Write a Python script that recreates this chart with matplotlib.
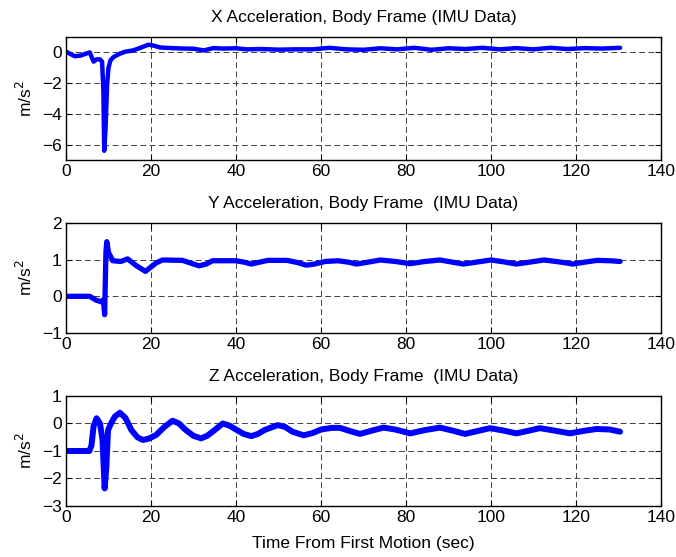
import matplotlib
matplotlib.use('Agg')
import matplotlib.pyplot as plt

plt.rcParams['font.family'] = ['Liberation Sans', 'DejaVu Sans']
plt.rcParams['font.size'] = 12.5

# X acceleration, body frame
tx = [0, 1, 2.1, 3.5, 4.5, 5.6, 6.5, 7.2, 8.0, 8.5, 8.8, 9.0, 9.3, 9.7, 10.0,
      10.5, 11.2, 12.7, 14, 15.8, 17.5, 19.4, 20.5, 22.2, 25, 28, 30, 32.4, 34.7,
      37, 40, 42.5, 46, 50, 54, 58, 62, 66, 70, 74, 78, 82, 86, 90, 94, 98, 102,
      106, 110, 114, 118, 122, 126, 130.4]
ax_vals = [0.05, -0.1, -0.25, -0.2, -0.1, 0.0, -0.6, -0.45, -0.45, -0.6, -2.5,
           -6.4, -5.0, -2.0, -1.0, -0.5, -0.3, -0.08, 0.05, 0.13, 0.3, 0.5, 0.45,
           0.32, 0.28, 0.25, 0.24, 0.13, 0.28, 0.25, 0.27, 0.2, 0.22, 0.18, 0.2,
           0.2, 0.3, 0.2, 0.17, 0.27, 0.2, 0.3, 0.17, 0.27, 0.22, 0.3, 0.2, 0.28,
           0.2, 0.3, 0.22, 0.28, 0.25, 0.3]

# Y acceleration, body frame
ty = [0, 3, 5.6, 7, 8.3, 8.8, 9.1, 9.4, 9.6, 10.0, 11.0, 12.9, 14.5, 16.5, 18.7,
      21.2, 22.7, 27.4, 29.5, 31.3, 33, 34.5, 40, 42, 43.6, 45.5, 47.5, 52, 54.5,
      56.5, 58.5, 61, 64, 66.5, 68.4, 70.5, 74, 77.5, 81, 84.5, 88, 91, 93.5, 96.5,
      100, 103, 106, 109, 112.5, 116, 119.3, 122, 125, 128, 130.4]
ay_vals = [0, 0, 0, -0.1, -0.15, -0.1, -0.5, 1.2, 1.49, 1.2, 0.97, 0.95, 1.02,
           0.84, 0.68, 0.91, 0.99, 0.98, 0.9, 0.83, 0.88, 0.97, 0.97, 0.93, 0.88,
           0.93, 0.98, 0.98, 0.92, 0.85, 0.88, 0.95, 0.97, 0.93, 0.88, 0.92, 0.99,
           0.95, 0.89, 0.95, 0.99, 0.93, 0.88, 0.93, 0.99, 0.94, 0.88, 0.93, 0.99,
           0.94, 0.88, 0.93, 0.98, 0.97, 0.95]

# Z acceleration, body frame
tz = [0, 3, 5.5, 6.0, 6.5, 7.2, 8.0, 8.6, 9.1, 9.5, 9.9, 10.6, 11.5, 12.7, 14,
      15.4, 16.8, 18.1, 19.5, 21.2, 23.2, 25.1, 26.6, 28.2, 30, 31.8, 33.2, 34.5,
      36.9, 38.5, 40, 41.8, 43.6, 45.2, 46.7, 49.8, 51.5, 53.3, 55.9, 58, 60,
      62.5, 64.5, 66.5, 69.2, 72, 74.7, 77.5, 81, 84.5, 88, 91, 93.9, 97, 99.8,
      103, 106, 109, 111.5, 115, 118.6, 121.8, 124.9, 128, 130.4]
az_vals = [-1, -1, -1, -0.8, -0.1, 0.19, 0.0, -0.6, -2.36, -1.6, -0.24, 0.0, 0.25,
           0.39, 0.2, -0.24, -0.5, -0.6, -0.55, -0.42, -0.12, 0.1, 0.0, -0.24, -0.45,
           -0.54, -0.45, -0.3, 0.0, -0.08, -0.22, -0.38, -0.46, -0.38, -0.24, -0.06,
           -0.12, -0.3, -0.43, -0.35, -0.22, -0.16, -0.16, -0.26, -0.38, -0.26, -0.15,
           -0.22, -0.36, -0.24, -0.15, -0.26, -0.38, -0.27, -0.17, -0.26, -0.36,
           -0.26, -0.17, -0.26, -0.36, -0.27, -0.2, -0.22, -0.3]

panels = [
    (tx, ax_vals, 'X Acceleration, Body Frame (IMU Data)', (-7, 1), [-6, -4, -2, 0],
     [0.0976, 0.7127, 0.880, 0.2208], 3.2),
    (ty, ay_vals, 'Y Acceleration, Body Frame  (IMU Data)', (-1, 2), [-1, 0, 1, 2],
     [0.0976, 0.4022, 0.880, 0.1975], 3.8),
    (tz, az_vals, 'Z Acceleration, Body Frame  (IMU Data)', (-3, 1), [-3, -2, -1, 0, 1],
     [0.0976, 0.0916, 0.880, 0.1975], 4.3),
]

fig = plt.figure(figsize=(6.76, 5.57), dpi=100)

for i, (t, v, title, ylim, yticks, rect, lw) in enumerate(panels):
    ax = fig.add_axes(rect)
    ax.plot(t, v, color='#0000ff', lw=lw, solid_capstyle='round',
            solid_joinstyle='round')
    ax.set_xlim(0, 140)
    ax.set_ylim(*ylim)
    ax.set_xticks(range(0, 141, 20))
    ax.set_yticks(yticks)
    ax.grid(True, color='0.25', linestyle=(0, (6, 3.5)), linewidth=0.7)
    ax.tick_params(direction='in', top=True, right=True, length=4, width=0.8,
                   labelsize=12.5, pad=3)
    for s in ax.spines.values():
        s.set_linewidth(1.0)
    ax.set_title(title, fontsize=12.5, pad=11)
    ax.set_ylabel('m/s$^2$', fontsize=12.5, labelpad=5)
    if i == 2:
        ax.set_xlabel('Time From First Motion (sec)', fontsize=12.5, labelpad=8)

fig.savefig('out.png', dpi=100)
